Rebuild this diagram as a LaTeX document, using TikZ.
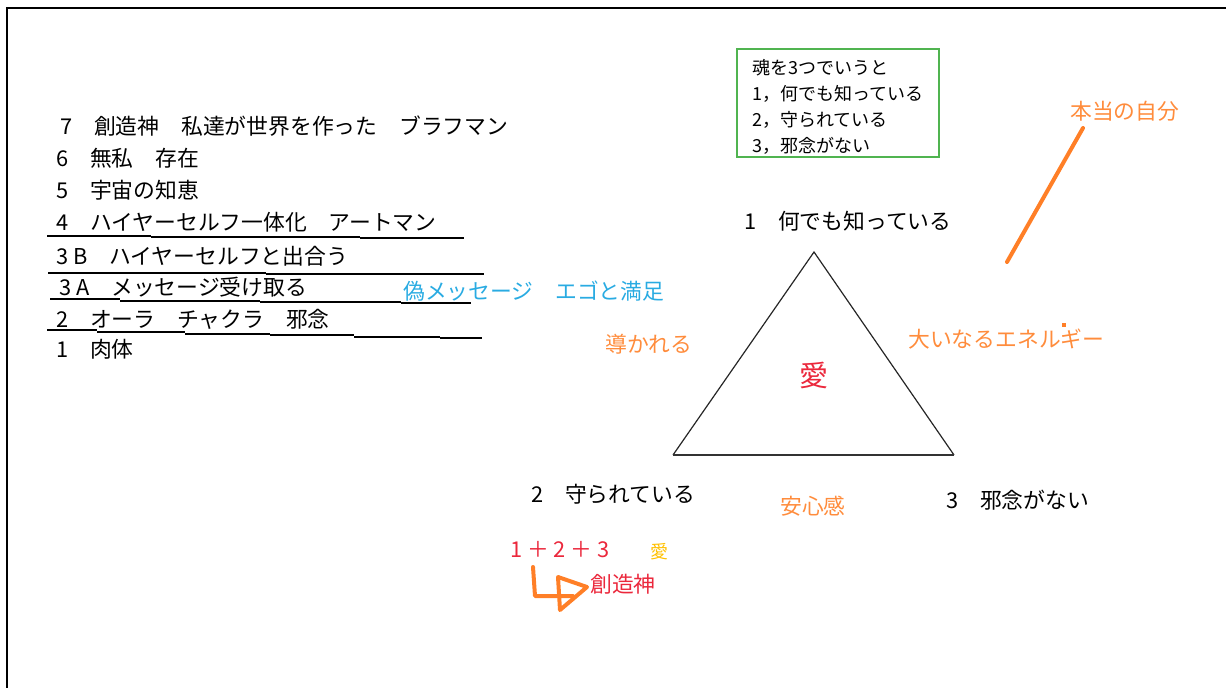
\documentclass[tikz,border=0pt]{standalone}
\usepackage{fontspec}
\setmainfont{Noto Sans CJK JP}
\definecolor{blueT}{RGB}{41,171,226}
\definecolor{orangeT}{RGB}{255,140,60}
\definecolor{orangeL}{RGB}{255,127,39}
\definecolor{redT}{RGB}{235,40,60}
\definecolor{yellowT}{RGB}{255,192,0}
\definecolor{greenB}{RGB}{80,180,80}
\tikzset{
  txt/.style={anchor=west, inner sep=0pt, font=\fontsize{21.8}{26}\selectfont, text height=19pt, text depth=1.5pt},
  small/.style={anchor=west, inner sep=0pt, font=\fontsize{18}{22}\selectfont, text height=17pt, text depth=1.6pt},
  uline/.style={line width=1.3pt, black},
  hand/.style={orangeL, line width=4pt, line cap=round, line join=round}
}
\begin{document}
\begin{tikzpicture}[x=1pt,y=-1pt]
\useasboundingbox (0,0) rectangle (1226,688);
% frame
\draw[line width=2.5pt] (6.4,8) -- (1226,8);
\draw[line width=1.2pt] (7,8) -- (7,688);

% left list
\node[txt] (r7) at (60,126) {7　創造神　私達が世界を作った　ブラフマン};
\node[txt] (r6) at (56,158) {6　無私　存在};
\node[txt] (r5) at (56,190) {5　宇宙の知恵};
\node[txt] (r4) at (56,222) {4　ハイヤーセルフ一体化　アートマン};
\node[txt] (r3b) at (56,256) {3 B　ハイヤーセルフと出合う};
\node[txt] (r3a) at (59,287) {3 A　メッセージ受け取る};
\node[txt] (r2) at (56,319) {2　オーラ　チャクラ　邪念};
\node[txt] (r1) at (56,349) {1　肉体};

% underlines
\draw[uline] (47,236) -- (151,236);
\draw[uline] (151,237) -- (360,237);
\draw[uline] (360,238) -- (464,238);
\draw[uline] (48,273) -- (266,273);
\draw[uline] (266,274) -- (484,274);
\draw[uline] (50,299) -- (120,299);
\draw[uline] (120,301) -- (260,301);
\draw[uline] (260,302) -- (401,302);
\draw[uline] (401,303) -- (471,303);
\draw[uline] (47,330) -- (97,330);
\draw[uline] (97,332) -- (185,332);
\draw[uline] (185,334) -- (270,334);
\draw[uline] (270,335) -- (354,335);
\draw[uline] (354,337) -- (440,337);
\draw[uline] (440,338) -- (482,338);

\node[txt, text=blueT] (fake) at (403,291) {偽メッセージ　エゴと満足};

% green box
\draw[greenB, line width=1.3pt] (737,49) rectangle (939,157);
\node[small] (b0) at (752,67) {魂を3つでいうと};
\node[small] (b1) at (752,93) {1，何でも知っている};
\node[small] (b2) at (752,119) {2，守られている};
\node[small] (b3) at (752,145) {3，邪念がない};

% triangle
\coordinate (A) at (814,252);
\coordinate (B) at (673,455);
\coordinate (C) at (954,455);
\draw[line width=1.2pt, black!85] (B) -- (A) -- (C);
\draw[line width=2pt, black!80] (B) -- (C);

\node[txt] (t1) at (744,221) {1　何でも知っている};
\node[txt] (t2) at (531,494) {2　守られている};
\node[txt] (t3) at (946,500) {3　邪念がない};

\node[anchor=center, inner sep=0pt, font=\fontsize{29}{32}\selectfont, text=redT, text height=21pt, text depth=1.6pt] (ai) at (814,377) {愛};

\node[txt, text=orangeT] (lead) at (605,344) {導かれる};
\node[txt, text=orangeT] (energy) at (908,339) {大いなるエネルギー};
\fill[orangeL] (1062,323) rectangle (1066,327);
\node[txt, text=orangeT] (anshin) at (780,506) {安心感};
\node[txt, text=orangeT] (self) at (1070,111) {本当の自分};
\draw[hand] (1083,128) -- (1007,262);

% bottom
\node[txt, text=redT] (sum) at (510,549) {1 ＋ 2 ＋ 3};
\node[small, text=yellowT] (ai2) at (650,551) {愛};
\node[txt, text=redT] (soz) at (590,584) {創造神};
\draw[hand] (533,567) -- (535,596) -- (573,596);
\draw[hand] (558,577) -- (587,587) -- (560,610) -- cycle;
\end{tikzpicture}
\end{document}
